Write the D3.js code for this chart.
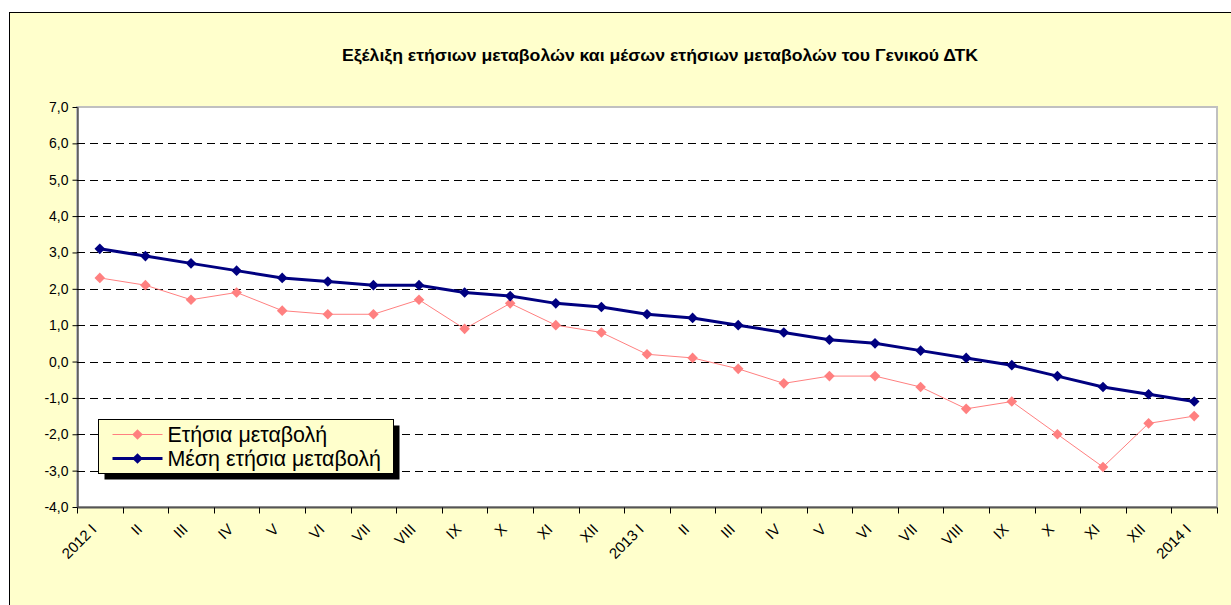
<!DOCTYPE html>
<html>
<head>
<meta charset="utf-8">
<script src="https://cdn.jsdelivr.net/npm/d3@7"></script>
<style>
  body { margin: 0; background: #fff; }
  text { font-family: "Liberation Sans", Arial, sans-serif; }
</style>
</head>
<body>
<div id="chart"></div>
<script>
// months 2012 I .. 2014 I
const months = [
  "2012 I", "II", "III", "IV", "V", "VI", "VII", "VIII", "IX", "X", "XI", "XII",
  "2013 I", "II ", "III ", "IV ", "V ", "VI ", "VII ", "VIII ", "IX ", "X ", "XI ", "XII ",
  "2014 I"
];
const annualChange = [
  2.3, 2.1, 1.7, 1.9, 1.4, 1.3, 1.3, 1.7, 0.9, 1.6, 1.0, 0.8,
  0.2, 0.1, -0.2, -0.6, -0.4, -0.4, -0.7, -1.3, -1.1, -2.0, -2.9, -1.7,
  -1.5
];
const meanAnnualChange = [
  3.1, 2.9, 2.7, 2.5, 2.3, 2.2, 2.1, 2.1, 1.9, 1.8, 1.6, 1.5,
  1.3, 1.2, 1.0, 0.8, 0.6, 0.5, 0.3, 0.1, -0.1, -0.4, -0.7, -0.9,
  -1.1
];
const yTicks = [-4, -3, -2, -1, 0, 1, 2, 3, 4, 5, 6, 7];
const seriesNames = ["Ετήσια μεταβολή", "Μέση ετήσια μεταβολή"];
const title = "Εξέλιξη ετήσιων μεταβολών και μέσων ετήσιων μεταβολών του Γενικού ΔΤΚ";

const width = 1231, height = 605;
const plot = { left: 77, right: 1217, top: 107, bottom: 507 };

const svg = d3.select("#chart").append("svg")
  .attr("width", width)
  .attr("height", height);

// outer chart area
svg.append("rect")
  .attr("x", 9.5).attr("y", 12.5)
  .attr("width", width + 10).attr("height", height + 10)
  .attr("fill", "#FFFFCC")
  .attr("stroke", "#000");

svg.append("text")
  .attr("x", 342).attr("y", 61)
  .attr("font-size", 16.5)
  .attr("font-weight", "bold")
  .attr("textLength", 636)
  .attr("lengthAdjust", "spacingAndGlyphs")
  .text(title);

const x = d3.scaleBand()
  .domain(months)
  .range([plot.left, plot.right]);

const y = d3.scaleLinear()
  .domain([-4, 7])
  .range([plot.bottom, plot.top]);

// plot area
svg.append("rect")
  .attr("x", plot.left).attr("y", plot.top)
  .attr("width", plot.right - plot.left).attr("height", plot.bottom - plot.top)
  .attr("fill", "#fff")
  .attr("stroke", "#c0c0c0")
  .attr("stroke-width", 2);

// gridlines
svg.append("g")
  .selectAll("line")
  .data(yTicks.filter(d => d > -4 && d < 7))
  .join("line")
  .attr("x1", plot.left).attr("x2", plot.right)
  .attr("y1", d => Math.round(y(d)) + 0.5)
  .attr("y2", d => Math.round(y(d)) + 0.5)
  .attr("stroke", "#000")
  .attr("stroke-dasharray", "8,5");

// y axis
const yAxis = svg.append("g")
  .attr("transform", `translate(${plot.left + 0.5},0)`)
  .call(d3.axisLeft(y).tickValues(yTicks).tickSize(5).tickSizeOuter(0)
    .tickFormat(d => d3.format(".1f")(d).replace(".", ",").replace("−", "-")));
yAxis.select(".domain").attr("stroke", "#000");
yAxis.selectAll(".tick text")
  .attr("fill", "#000")
  .attr("x", -9)
  .style("font-size", "14px")
  .style("font-family", "Liberation Sans, Arial, sans-serif");

// x axis (ticks between categories)
const xAxisG = svg.append("g")
  .attr("transform", `translate(0,${plot.bottom + 0.5})`);
xAxisG.append("line")
  .attr("x1", plot.left).attr("x2", plot.right)
  .attr("stroke", "#555").attr("stroke-width", 2);
xAxisG.selectAll("line.tk")
  .data(months.concat(["end"]))
  .join("line")
  .attr("class", "tk")
  .attr("x1", (d, i) => Math.round(plot.left + i * x.bandwidth()) + 0.5)
  .attr("x2", (d, i) => Math.round(plot.left + i * x.bandwidth()) + 0.5)
  .attr("y1", 0).attr("y2", 6)
  .attr("stroke", "#000");
xAxisG.selectAll("text")
  .data(months)
  .join("text")
  .attr("transform", d => `translate(${x(d) + x.bandwidth() / 2 - 6},${19}) rotate(-45)`)
  .attr("text-anchor", "end")
  .attr("dy", "0.35em")
  .style("font-size", "15px")
  .text(d => d.trim());

const line = d3.line()
  .x((d, i) => x(months[i]) + x.bandwidth() / 2)
  .y(d => y(d));

const diamond = d3.symbol().type(d3.symbolDiamond2);

function drawSeries(values, color, lw, size) {
  svg.append("path")
    .datum(values)
    .attr("fill", "none")
    .attr("stroke", color)
    .attr("stroke-width", lw)
    .attr("d", line);
  svg.append("g")
    .selectAll("path")
    .data(values)
    .join("path")
    .attr("transform", (d, i) => `translate(${x(months[i]) + x.bandwidth() / 2},${y(d)})`)
    .attr("d", diamond.size(size)())
    .attr("fill", color);
}

drawSeries(annualChange, "#FF8080", 1, 72);
drawSeries(meanAnnualChange, "#000080", 3, 72);

// legend
const legend = svg.append("g").attr("transform", "translate(98.5,419.5)");
legend.append("rect")
  .attr("x", 6).attr("y", 6).attr("width", 295).attr("height", 54)
  .attr("fill", "#000");
legend.append("rect")
  .attr("width", 295).attr("height", 54)
  .attr("fill", "#FFFFCC").attr("stroke", "#000");
const legendColors = ["#FF8080", "#000080"];
const legendWidths = [1, 3];
seriesNames.forEach((name, i) => {
  const cy = 15 + i * 24;
  legend.append("line")
    .attr("x1", 14).attr("x2", 64)
    .attr("y1", cy).attr("y2", cy)
    .attr("stroke", legendColors[i]).attr("stroke-width", legendWidths[i]);
  legend.append("path")
    .attr("transform", `translate(39,${cy})`)
    .attr("d", diamond.size(72)())
    .attr("fill", legendColors[i]);
  legend.append("text")
    .attr("x", 69).attr("y", cy)
    .attr("dy", "0.35em")
    .attr("font-size", 21.4)
    .text(name);
});
</script>
</body>
</html>
